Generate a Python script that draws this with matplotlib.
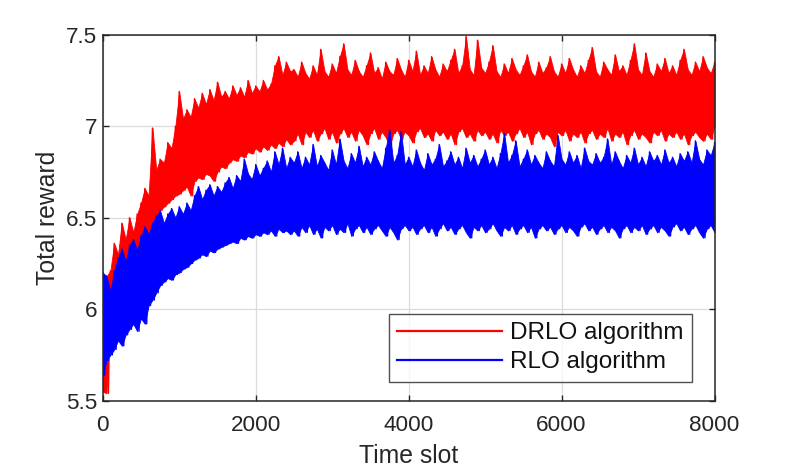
import numpy as np
import matplotlib
matplotlib.use("Agg")
import matplotlib.pyplot as plt

# ---------------- data ----------------
slot_step = 50
slots = np.arange(0, 8001, slot_step)

drlo_upper = [
    5.70, 6.18, 6.21, 6.36, 6.30, 6.47, 6.38, 6.50, 6.42, 6.52,
    6.58, 6.66, 6.62, 6.99, 6.76, 6.82, 6.80, 6.91, 6.88, 7.00,
    7.19, 7.04, 7.09, 7.05, 7.15, 7.10, 7.18, 7.12, 7.20, 7.14,
    7.24, 7.16, 7.19, 7.15, 7.22, 7.17, 7.21, 7.16, 7.25, 7.18,
    7.22, 7.19, 7.25, 7.20, 7.23, 7.33, 7.38, 7.28, 7.35, 7.30,
    7.31, 7.27, 7.35, 7.29, 7.26, 7.33, 7.28, 7.42, 7.30, 7.27,
    7.34, 7.29, 7.38, 7.45, 7.31, 7.28, 7.36, 7.30, 7.27, 7.33,
    7.40, 7.29, 7.32, 7.26, 7.35, 7.30, 7.28, 7.37, 7.31, 7.27,
    7.36, 7.30, 7.41, 7.28, 7.33, 7.29, 7.38, 7.31, 7.27, 7.34,
    7.30, 7.36, 7.42, 7.29, 7.33, 7.49, 7.31, 7.28, 7.47, 7.32,
    7.29, 7.35, 7.44, 7.30, 7.27, 7.34, 7.29, 7.37, 7.31, 7.28,
    7.33, 7.39, 7.30, 7.27, 7.35, 7.29, 7.32, 7.38, 7.30, 7.27,
    7.34, 7.29, 7.37, 7.31, 7.27, 7.33, 7.29, 7.36, 7.43, 7.30,
    7.27, 7.35, 7.31, 7.28, 7.39, 7.30, 7.33, 7.28, 7.36, 7.45,
    7.31, 7.28, 7.40, 7.30, 7.27, 7.34, 7.30, 7.37, 7.29, 7.33,
    7.28, 7.36, 7.42, 7.31, 7.28, 7.35, 7.30, 7.38, 7.32, 7.29,
    7.35,
]
drlo_lower = [
    5.55, 5.54, 6.02, 6.08, 6.12, 6.18, 6.15, 6.22, 6.26, 6.30,
    6.34, 6.38, 6.42, 6.46, 6.50, 6.54, 6.56, 6.58, 6.60, 6.62,
    6.63, 6.65, 6.67, 6.62, 6.70, 6.72, 6.71, 6.74, 6.73, 6.70,
    6.75, 6.78, 6.77, 6.80, 6.82, 6.81, 6.84, 6.83, 6.86, 6.85,
    6.88, 6.86, 6.89, 6.87, 6.90, 6.88, 6.91, 6.89, 6.93, 6.90,
    6.92, 6.96, 6.90, 6.97, 6.94, 6.98, 6.92, 6.96, 6.99, 6.93,
    6.97, 6.91, 6.96, 6.99, 6.94, 6.97, 6.92, 6.98, 6.95, 6.90,
    6.96, 6.99, 6.93, 6.97, 6.94, 6.89, 6.96, 6.98, 6.93, 6.97,
    6.95, 6.91, 6.97, 6.99, 6.94, 6.96, 6.92, 6.98, 6.95, 6.97,
    6.93, 6.96, 6.90, 6.97, 6.99, 6.94, 6.96, 6.92, 6.98, 6.95,
    6.97, 6.93, 6.96, 6.91, 6.98, 6.95, 6.97, 6.92, 6.96, 6.99,
    6.94, 6.97, 6.90, 6.96, 6.98, 6.93, 6.96, 6.94, 6.89, 6.97,
    6.95, 6.98, 6.92, 6.96, 6.94, 6.97, 6.91, 6.96, 6.98, 6.93,
    6.96, 6.94, 6.99, 6.92, 6.96, 6.94, 6.97, 6.90, 6.95, 6.98,
    6.93, 6.96, 6.94, 6.91, 6.97, 6.95, 6.98, 6.92, 6.96, 6.94,
    6.97, 6.93, 6.96, 6.90, 6.95, 6.97, 6.94, 6.92, 6.96, 6.93,
    7.00,
]
rlo_upper = [
    6.20, 6.18, 6.10, 6.21, 6.28, 6.33, 6.26, 6.35, 6.38, 6.32,
    6.40, 6.45, 6.41, 6.47, 6.51, 6.54, 6.47, 6.52, 6.55, 6.50,
    6.56, 6.52, 6.58, 6.54, 6.62, 6.67, 6.60, 6.65, 6.68, 6.62,
    6.67, 6.64, 6.69, 6.72, 6.66, 6.73, 6.70, 6.82, 6.74, 6.71,
    6.79, 6.73, 6.77, 6.81, 6.75, 6.86, 6.79, 6.88, 6.77, 6.83,
    6.80, 6.86, 6.77, 6.83, 6.79, 6.90, 6.78, 6.84, 6.80, 6.76,
    6.87, 6.79, 6.93, 6.81, 6.77, 6.85, 6.80, 6.89, 6.78, 6.83,
    6.79, 6.86, 6.81, 6.77, 6.88, 6.98, 6.80, 6.84, 6.97, 6.79,
    6.83, 6.78, 6.87, 6.80, 6.76, 6.85, 6.79, 6.82, 6.90, 6.78,
    6.81, 6.86, 6.79, 6.83, 6.77, 6.88, 6.80, 6.84, 6.78, 6.82,
    6.87, 6.79, 6.83, 6.77, 6.85, 6.96, 6.80, 6.84, 6.92, 6.78,
    6.82, 6.87, 6.79, 6.84, 6.80, 6.77, 6.86, 6.81, 6.78, 6.95,
    6.82, 6.79, 6.86, 6.80, 6.84, 6.77, 6.88, 6.81, 6.79, 6.85,
    6.80, 6.83, 6.93, 6.79, 6.86, 6.81, 6.77, 6.84, 6.80, 6.88,
    6.79, 6.83, 6.78, 6.86, 6.81, 6.84, 6.79, 6.87, 6.80, 6.83,
    6.78, 6.85, 6.81, 6.86, 6.80, 6.92, 6.82, 6.79, 6.87, 6.84,
    6.91,
]
rlo_lower = [
    5.64, 5.72, 5.75, 5.78, 5.83, 5.80, 5.86, 5.89, 5.92, 5.88,
    5.95, 5.92, 6.02, 6.05, 6.09, 6.13, 6.15, 6.17, 6.16, 6.19,
    6.20, 6.22, 6.23, 6.25, 6.27, 6.28, 6.30, 6.29, 6.32, 6.31,
    6.33, 6.34, 6.35, 6.36, 6.37, 6.36, 6.39, 6.38, 6.40, 6.39,
    6.41, 6.40, 6.42, 6.41, 6.43, 6.40, 6.44, 6.42, 6.43, 6.41,
    6.43, 6.40, 6.45, 6.42, 6.46, 6.41, 6.44, 6.39, 6.45, 6.43,
    6.46, 6.41, 6.44, 6.42, 6.47, 6.40, 6.44, 6.46, 6.42, 6.45,
    6.41, 6.44, 6.46, 6.43, 6.40, 6.45, 6.42, 6.38, 6.44, 6.46,
    6.43, 6.45, 6.41, 6.44, 6.46, 6.42, 6.45, 6.40, 6.44, 6.47,
    6.43, 6.45, 6.41, 6.44, 6.46, 6.42, 6.39, 6.45, 6.43, 6.46,
    6.42, 6.44, 6.47, 6.43, 6.40, 6.45, 6.43, 6.46, 6.41, 6.44,
    6.46, 6.42, 6.45, 6.39, 6.44, 6.46, 6.43, 6.45, 6.41, 6.44,
    6.46, 6.42, 6.45, 6.43, 6.40, 6.45, 6.47, 6.43, 6.45, 6.41,
    6.44, 6.46, 6.42, 6.45, 6.43, 6.39, 6.44, 6.46, 6.42, 6.45,
    6.43, 6.46, 6.41, 6.44, 6.46, 6.42, 6.45, 6.43, 6.40, 6.45,
    6.47, 6.43, 6.45, 6.41, 6.44, 6.46, 6.42, 6.39, 6.44, 6.46,
    6.42,
]

series_labels = ["DRLO algorithm", "RLO algorithm"]
series_colors = ["#ff0000", "#0000ff"]

x_ticks = [0, 2000, 4000, 6000, 8000]
y_ticks = [5.5, 6, 6.5, 7, 7.5]
y_tick_labels = ["5.5", "6", "6.5", "7", "7.5"]
x_label = "Time slot"
y_label = "Total reward"

# ---------------- style ----------------
plt.rcParams["font.family"] = ["Liberation Sans", "DejaVu Sans"]
axis_col = "#262626"

fig = plt.figure(figsize=(7.89, 4.71), dpi=100)
ax = fig.add_axes([0.1302, 0.1493, 0.7754, 0.7770])


def band_path(x, up, lo):
    """Interleave the read upper/lower values into one zig-zag trace."""
    x = np.asarray(x, float)
    xs = np.empty(2 * len(x))
    ys = np.empty(2 * len(x))
    xs[0::2] = x
    xs[1::2] = x + slot_step / 2.0
    ys[0::2] = up
    ys[1::2] = lo
    return xs, ys


for k, (up, lo, col, lab) in enumerate(zip([drlo_upper, rlo_upper],
                                           [drlo_lower, rlo_lower],
                                           series_colors, series_labels)):
    z = 3 + k
    ax.fill_between(slots, lo, up, facecolor=col, edgecolor=col, lw=0.6,
                    zorder=z)
    xs, ys = band_path(slots, up, lo)
    ax.plot(xs, ys, color=col, lw=1.0, label=lab, solid_joinstyle="round",
            zorder=z)

ax.set_xlim(0, 8000)
ax.set_ylim(5.5, 7.5)
ax.set_xticks(x_ticks)
ax.set_xticklabels([str(t) for t in x_ticks])
ax.set_yticks(y_ticks)
ax.set_yticklabels(y_tick_labels)

ax.grid(True, color="#dcdcdc", lw=0.9, zorder=0)
ax.set_axisbelow(True)

for s in ax.spines.values():
    s.set_color(axis_col)
    s.set_linewidth(1.1)
    s.set_zorder(6)

ax.tick_params(axis="both", which="major", direction="in", length=4.5,
               width=1.0, colors=axis_col, labelsize=16.2,
               top=True, right=True)
ax.tick_params(axis="x", pad=10)
ax.tick_params(axis="y", pad=4)

ax.set_xlabel(x_label, fontsize=17.8, color=axis_col, labelpad=6)
ax.set_ylabel(y_label, fontsize=17.8, color=axis_col, labelpad=4)

leg = ax.legend(loc="lower right", bbox_to_anchor=(0.9627, 0.0519),
                borderaxespad=0, fontsize=17.5, frameon=True, fancybox=False,
                handlelength=4.3, handletextpad=0.33, labelspacing=0.28,
                borderpad=0.35)
for h in leg.get_lines():
    h.set_linewidth(1.6)
leg.get_frame().set_edgecolor(axis_col)
leg.get_frame().set_linewidth(1.0)
leg.set_zorder(7)
for t in leg.get_texts():
    t.set_color("#111111")

fig.savefig("out.png", dpi=100, facecolor="white")
